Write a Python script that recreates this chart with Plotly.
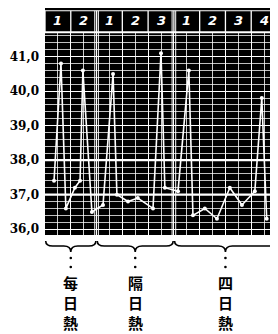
import plotly.graph_objects as go

# ---- data ----
day_labels = ["1", "2", "1", "2", "3", "1", "2", "3", "4"]
group_names = ["每日熱", "隔日熱", "四日熱"]
group_start = [0, 2, 5]
group_end = [2, 5, 9]
y_tick_vals = [36, 37, 38, 39, 40, 41]
y_tick_text = ["36,0", "37,0", "38,0", "39,0", "40,0", "41,0"]

time_days = [0.35, 0.62, 0.81, 1.16, 1.36, 1.47, 1.82, 2.25, 2.64, 2.79, 3.22, 3.60,
             4.19, 4.50, 4.65, 5.16, 5.58, 5.74, 6.20, 6.67, 7.17, 7.64, 8.14, 8.41, 8.60]
temps = [37.4, 40.8, 36.6, 37.2, 37.4, 40.6, 36.5, 36.7, 40.5, 37.0, 36.8, 36.9,
         36.6, 41.1, 37.2, 37.1, 40.6, 36.4, 36.6, 36.3, 37.2, 36.7, 37.1, 39.8, 36.3]

Y_MIN, Y_MAX = 35.83, 42.41
HEADER_BOTTOM = 41.71
HEADER_TOP_LINE = 42.33
HEADER_MID = 42.05
N_DAYS = len(day_labels)

OFF = 8  # page body margin
W, H = 278 - OFF, 334 - OFF
ML, MR, MT, MB = 45 - OFF, 1, 0, 99
PW, PH = W - ML - MR, H - MT - MB


def py_to_paper(py):
    return (H - MB - (py - OFF)) / PH


fig = go.Figure(go.Scatter(
    x=time_days, y=temps, mode="lines+markers",
    line=dict(color="white", width=1.6),
    marker=dict(color="white", size=4),
    hoverinfo="skip",
))

shapes = []
for yv in (37, 38):
    shapes.append(dict(type="line", xref="x", yref="y", x0=0, x1=N_DAYS, y0=yv, y1=yv,
                       line=dict(color="white", width=2.2), layer="above"))
shapes.append(dict(type="rect", xref="x", yref="y", x0=0, x1=N_DAYS, y0=HEADER_BOTTOM, y1=Y_MAX,
                   fillcolor="black", line=dict(width=0), layer="above"))
for i in range(N_DAYS + 1):
    shapes.append(dict(type="line", xref="x", yref="y", x0=i, x1=i, y0=HEADER_BOTTOM, y1=HEADER_TOP_LINE,
                       line=dict(color="white", width=1.3), layer="above"))
for gx in group_start[1:]:
    for off in (-0.07, 0.07):
        shapes.append(dict(type="line", xref="x", yref="y", x0=gx + off, x1=gx + off, y0=Y_MIN, y1=HEADER_TOP_LINE,
                           line=dict(color="white", width=1), layer="above"))
shapes.append(dict(type="line", xref="x", yref="y", x0=0, x1=N_DAYS, y0=HEADER_BOTTOM, y1=HEADER_BOTTOM,
                   line=dict(color="white", width=2), layer="above"))
shapes.append(dict(type="line", xref="x", yref="y", x0=0, x1=N_DAYS, y0=HEADER_TOP_LINE, y1=HEADER_TOP_LINE,
                   line=dict(color="white", width=1), layer="above"))

yT, yM, yB = py_to_paper(241), py_to_paper(246), py_to_paper(252)
q = 0.03
annotations = []
for a, b, name in zip(group_start, group_end, group_names):
    x0 = a / N_DAYS + 0.003
    x1 = b / N_DAYS - 0.003
    xm = (x0 + x1) / 2
    path = (f"M {x0},{yT} Q {x0},{yM} {x0 + q},{yM} L {xm - q},{yM} "
            f"Q {xm},{yM} {xm},{yB} Q {xm},{yM} {xm + q},{yM} "
            f"L {x1 - q},{yM} Q {x1},{yM} {x1},{yT}")
    shapes.append(dict(type="path", xref="paper", yref="paper", path=path,
                       line=dict(color="black", width=1.6)))
    for py in (258, 267):
        yc = py_to_paper(py)
        rx, ry = 1.3 / PW, 1.3 / PH
        shapes.append(dict(type="circle", xref="paper", yref="paper",
                           x0=xm - rx, x1=xm + rx, y0=yc - ry, y1=yc + ry,
                           fillcolor="black", line=dict(width=0)))
    for ch, py in zip(name, (282, 302, 322)):
        annotations.append(dict(xref="paper", yref="paper", x=xm, y=py_to_paper(py),
                                text=ch, showarrow=False, borderpad=0,
                                xanchor="center", yanchor="middle",
                                font=dict(family="Noto Sans CJK TC", size=15, color="black", weight="bold")))

for i, lab in enumerate(day_labels):
    annotations.append(dict(xref="x", yref="y", x=i + 0.5, y=HEADER_MID, text=lab, showarrow=False,
                            font=dict(family="DejaVu Sans", size=13, color="white",
                                      weight="bold", style="italic")))

fig.update_layout(
    width=W, height=H,
    margin=dict(l=ML, r=MR, t=MT, b=MB, autoexpand=False),
    paper_bgcolor="white", plot_bgcolor="black",
    showlegend=False,
    shapes=shapes, annotations=annotations,
    xaxis=dict(range=[0, N_DAYS], tick0=0, dtick=1, showticklabels=False, ticks="",
               showgrid=True, gridcolor="white", gridwidth=1.3,
               minor=dict(tick0=0, dtick=0.5, showgrid=True, gridcolor="rgba(255,255,255,0.8)", gridwidth=1),
               zeroline=False, showline=False, fixedrange=True),
    yaxis=dict(range=[Y_MIN, Y_MAX], tickmode="array", tickvals=y_tick_vals, ticktext=y_tick_text, ticks="",
               showgrid=True, gridcolor="white", gridwidth=1,
               minor=dict(tickmode="linear", tick0=36, dtick=0.2, showgrid=True,
                          gridcolor="rgba(255,255,255,0.75)", gridwidth=1),
               zeroline=False, showline=False, fixedrange=True,
               ticklabelstandoff=5,
               tickfont=dict(family="DejaVu Serif", size=12, color="black", weight="bold")),
)

fig.write_html("out.html")
